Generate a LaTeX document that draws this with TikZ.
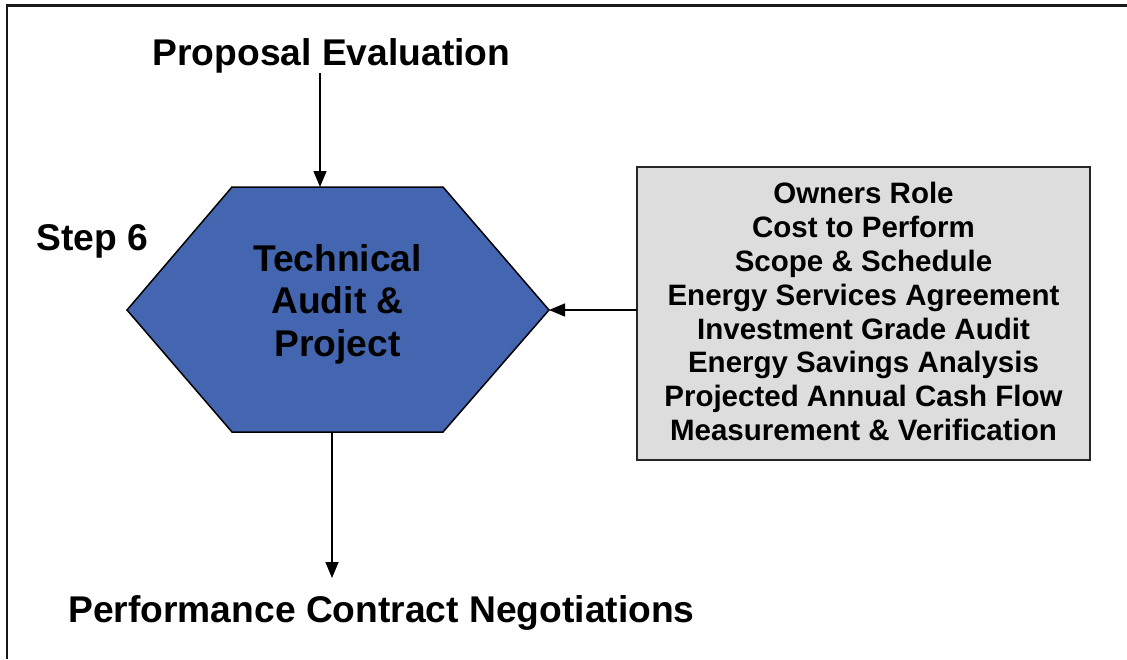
\documentclass[tikz,border=0pt]{standalone}
\usepackage{fontspec}
\setmainfont{Liberation Sans}
\usetikzlibrary{arrows.meta}
\definecolor{hexblue}{RGB}{68,102,176}
\definecolor{boxgray}{RGB}{221,221,221}
\begin{document}
\begin{tikzpicture}[x=1pt,y=-1pt,
  bigtext/.style={font=\bfseries\fontsize{37.2}{42.5}\selectfont, inner sep=0pt},
  smalltext/.style={font=\bfseries\fontsize{29.5}{33.9}\selectfont, align=center, inner sep=0pt},
  arr/.style={line width=1.5pt, -{Triangle[length=16pt,width=13pt]}},
  hexstyle/.style={fill=hexblue, draw=black, line width=1.5pt, line join=miter},
  infobox/.style={fill=boxgray, draw=black!85, line width=1.5pt, minimum width=453pt, minimum height=293pt, inner sep=0pt}
]
\useasboundingbox (0,0) rectangle (1127,659);
% frame
\draw[line width=2.2pt, black!90] (1127,5.5) -- (7,5.5) -- (7,659);
% hexagon
\coordinate (hL) at (127,310);
\coordinate (hTL) at (232,187);
\coordinate (hTR) at (443,187);
\coordinate (hR) at (549,310);
\coordinate (hBR) at (443,432);
\coordinate (hBL) at (232,432);
\draw[hexstyle] (hL) -- (hTL) -- (hTR) -- (hR) -- (hBR) -- (hBL) -- cycle;
\node[bigtext, align=center] (tech) at (337.5,304) {Technical\\Audit \&\\Project};
% connection points
\coordinate (hexTop) at (320,187);
\coordinate (hexBot) at (332,432);
\coordinate (hexRight) at (549,310);
% texts
\node[bigtext, anchor=base] (prop) at (331.5,65) {Proposal Evaluation};
\node[bigtext, anchor=base] (perf) at (381.5,622) {Performance Contract Negotiations};
\node[bigtext, anchor=base] (step) at (92.5,250) {Step 6};
% info box
\node[infobox] (box) at (863.5,313.5) {};
\node[smalltext] (boxtext) at (863.5,311.5) {Owners Role\\Cost to Perform\\Scope \& Schedule\\Energy Services Agreement\\Investment Grade Audit\\Energy Savings Analysis\\Projected Annual Cash Flow\\Measurement \& Verification};
% arrows
\coordinate (propOut) at (320,73);
\coordinate (perfIn) at (332,578);
\coordinate (boxOut) at (637,310);
\draw[arr] (propOut) -- (hexTop);
\draw[arr] (hexBot) -- (perfIn);
\draw[arr] (boxOut) -- (hexRight);
\end{tikzpicture}
\end{document}
